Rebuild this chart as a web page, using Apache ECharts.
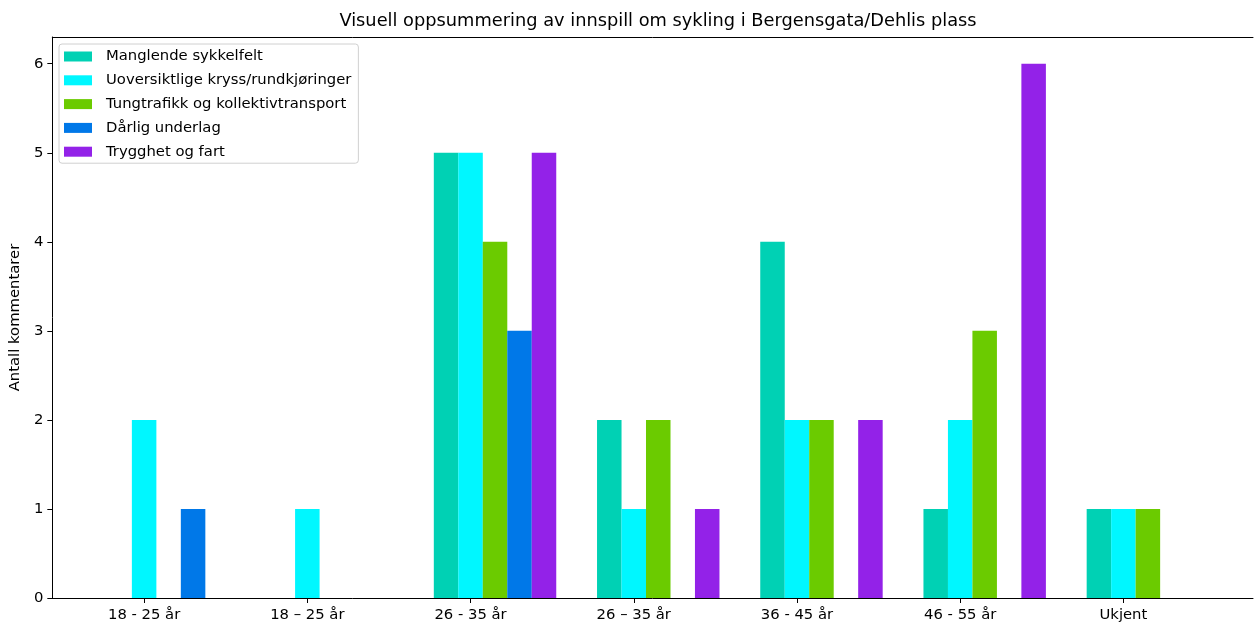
<!DOCTYPE html>
<html>
<head>
<meta charset="utf-8">
<script src="https://cdn.jsdelivr.net/npm/echarts@6/dist/echarts.min.js"></script>
<style>
    html, body { margin: 0; padding: 0; background: #fff; }
    #chart { width: 1254px; height: 623px; }
</style>
</head>
<body>
<div id="chart"></div>
<script>
    // kategorier (aldersgrupper) og antall kommentarer per tema
    var categories = ['18 - 25 år', '18 – 25 år', '26 - 35 år', '26 – 35 år', '36 - 45 år', '46 - 55 år', 'Ukjent'];
    var themes = ['Manglende sykkelfelt', 'Uoversiktlige kryss/rundkjøringer', 'Tungtrafikk og kollektivtransport', 'Dårlig underlag', 'Trygghet og fart'];
    var manglende = [0, 0, 5, 2, 4, 1, 1];
    var uoversiktlige = [2, 1, 5, 1, 2, 2, 1];
    var tungtrafikk = [0, 0, 4, 2, 2, 3, 1];
    var underlag = [1, 0, 3, 0, 0, 0, 0];
    var trygghet = [0, 0, 5, 1, 2, 6, 0];
    var yTicks = [0, 1, 2, 3, 4, 5, 6];
    var xTicks = [0, 1, 2, 3, 4, 5, 6];

    var values = [manglende, uoversiktlige, tungtrafikk, underlag, trygghet];
    var colors = ['#00d1b4', '#00f7ff', '#6bcb00', '#0078e8', '#9322e8'];
    var offsets = [-0.15, 0, 0.15, 0.3, 0.45];

    // synlig del av aksen (høyre kant er kuttet i originalen)
    var xMin = -0.5625, xMax = 6.794;
    var gridLeft = 51, gridWidth = 1202;
    var barPx = 0.15 * gridWidth / (xMax - xMin);

    var chart = echarts.init(document.getElementById('chart'));
    var font = 'DejaVu Sans';
    var fs = 14.8;

    var series = values.map(function (vals, s) {
        return {
            name: themes[s],
            type: 'bar',
            barWidth: barPx,
            barGap: '-100%',
            itemStyle: { color: colors[s] },
            data: vals.map(function (v, i) {
                return [i + offsets[s], v];
            })
        };
    });

    chart.setOption({
        backgroundColor: '#fff',
        animation: false,
        textStyle: { fontFamily: font },
        title: {
            text: 'Visuell oppsummering av innspill om sykling i Bergensgata/Dehlis plass',
            left: 653,
            textAlign: 'center',
            top: 7.5,
            textStyle: { fontFamily: font, fontSize: 17.8, fontWeight: 'normal', color: '#000' }
        },
        grid: {
            left: gridLeft,
            top: 37,
            width: gridWidth,
            height: 561
        },
        legend: {
            orient: 'vertical',
            left: 59,
            top: 44,
            padding: [5, 7, 4, 5],
            itemWidth: 28,
            itemHeight: 10,
            itemGap: 8.8,
            borderColor: '#d0d0d0',
            borderWidth: 1,
            borderRadius: 3,
            backgroundColor: 'rgba(255,255,255,0.8)',
            icon: 'rect',
            textStyle: { fontFamily: font, fontSize: fs, color: '#000', lineHeight: 14.5, padding: [0, 0, 0, 9] },
            data: themes
        },
        xAxis: [{
            type: 'value',
            min: xMin,
            max: xMax,
            splitLine: { show: false },
            axisLine: { show: true, onZero: false, lineStyle: { color: '#000', width: 1 } },
            axisTick: { show: true, length: 5, lineStyle: { color: '#000' }, customValues: xTicks },
            axisLabel: {
                customValues: xTicks,
                margin: 10,
                fontFamily: font,
                fontSize: fs,
                color: '#000',
                formatter: function (v) { return categories[Math.round(v)]; }
            }
        }, {
            // toppkant av rammen
            type: 'value',
            position: 'top',
            min: xMin,
            max: xMax,
            splitLine: { show: false },
            axisLine: { show: true, onZero: false, lineStyle: { color: '#000', width: 1 } },
            axisTick: { show: false },
            axisLabel: { show: false }
        }],
        yAxis: {
            type: 'value',
            min: 0,
            max: 6.3,
            name: 'Antall kommentarer',
            nameLocation: 'middle',
            nameGap: 29,
            nameTextStyle: { fontFamily: font, fontSize: fs, color: '#000' },
            splitLine: { show: false },
            axisLine: { show: true, onZero: false, lineStyle: { color: '#000', width: 1 } },
            axisTick: { show: true, length: 5, lineStyle: { color: '#000' }, customValues: yTicks },
            axisLabel: { customValues: yTicks, margin: 9, fontFamily: font, fontSize: fs, color: '#000' }
        },
        series: series
    });
</script>
</body>
</html>
